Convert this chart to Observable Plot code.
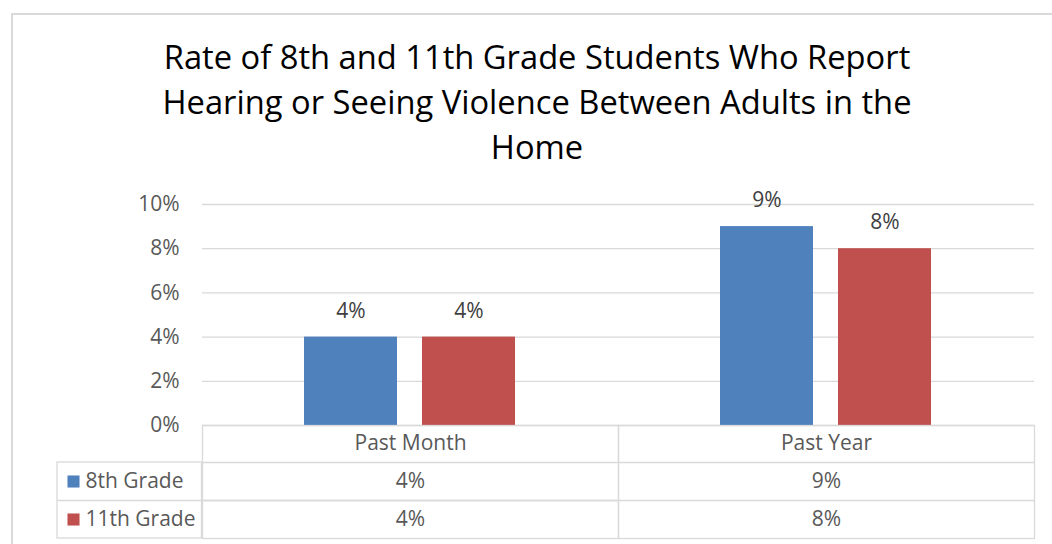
<!DOCTYPE html>
<html>
<head>
<meta charset="utf-8">
<script src="https://cdn.jsdelivr.net/npm/d3@7"></script>
<script src="https://cdn.jsdelivr.net/npm/@observablehq/plot@0.6"></script>
<style>
  html, body { margin: 0; padding: 0; background: #fff; width: 1052px; height: 544px; overflow: hidden; }
  #border { position: absolute; left: 11px; top: 13px; width: 1100px; height: 600px;
            border-left: 2px solid #d9d9d9; border-top: 2px solid #d9d9d9; z-index: 2; pointer-events: none; }
  #title { position: absolute; left: 0; top: 34px; width: 1074px; text-align: center;
           font-family: "Open Sans", sans-serif; font-size: 32.7px; line-height: 45px; color: #000; }
  #chart { position: absolute; left: 0; top: 180px; }
</style>
</head>
<body>
<div id="border"></div>
<div id="title">Rate of 8th and 11th Grade Students Who Report<br>Hearing or Seeing Violence Between Adults in the<br>Home</div>
<div id="chart"></div>
<script>
// ---- data ----
const categories = ["Past Month", "Past Year"];
const grades = ["8th Grade", "11th Grade"];
const grade8Values = [4, 9];
const grade11Values = [4, 8];
const yTicks = [0, 2, 4, 6, 8, 10];
const colors = ["#4F81BD", "#C0504D"];

const rows = [];
categories.forEach((c, i) => {
  rows.push({cat: c, grade: grades[0], value: grade8Values[i]});
  rows.push({cat: c, grade: grades[1], value: grade11Values[i]});
});

// ---- layout ----
const W = 1052, H = 364;
const ML = 201, MR = 18, MT = 24, MB = 119;
const facetW = (W - ML - MR) / categories.length;
const frameH = H - MT - MB;
const grid = "#d9d9d9";
const txt = "#595959";
const FS = 21;

const row0 = 18, row1 = 56, row2 = 94;   // text centers below the frame bottom
const line1 = 37, line2 = 75, line3 = 113;

const plot = Plot.plot({
  width: W, height: H,
  marginLeft: ML, marginRight: MR, marginTop: MT, marginBottom: MB,
  style: {fontFamily: "'Open Sans', sans-serif", background: "none", overflow: "visible"},
  fx: {domain: categories, padding: 0, axis: null},
  x: {domain: grades, paddingInner: 0.21, paddingOuter: 0.857, axis: null},
  y: {domain: [0, 10], axis: null},
  color: {domain: grades, range: colors},
  marks: [
    Plot.gridY({ticks: yTicks, stroke: grid, strokeOpacity: 1, strokeWidth: 1.3}),
    Plot.axisY({ticks: yTicks, tickFormat: d => d + "%", tickSize: 0, tickPadding: 23,
                fontSize: FS, fill: txt, label: null}),
    Plot.barY(rows, {fx: "cat", x: "grade", y: "value", fill: "grade"}),
    Plot.text(rows, {fx: "cat", x: "grade", y: "value", text: d => d.value + "%",
                     dy: -26, fontSize: FS, fill: "#404040"}),
    // data table grid
    Plot.frame({stroke: grid, strokeWidth: 1.3, insetTop: frameH, insetBottom: -line3}),
    Plot.ruleY([0], {dy: line1, stroke: grid, strokeWidth: 1.3}),
    Plot.ruleY([0], {dy: line2, stroke: grid, strokeWidth: 1.3}),
    Plot.rect([0], {fx: () => categories[0], fill: "none", stroke: grid, strokeWidth: 1.3,
                    insetLeft: -(ML - 56), insetRight: facetW,
                    insetTop: frameH + line1, insetBottom: -line3}),
    Plot.ruleY([0], {fx: () => categories[0], dy: line2, insetLeft: -(ML - 56),
                     stroke: grid, strokeWidth: 1.3}),
    // header row (category labels)
    Plot.text(categories, {fx: d => d, text: d => d, frameAnchor: "bottom", lineAnchor: "middle",
                           dy: row0, fontSize: FS, fill: txt}),
    // value rows
    Plot.text(rows.filter(d => d.grade === grades[0]), {fx: "cat", text: d => d.value + "%",
              frameAnchor: "bottom", lineAnchor: "middle", dy: row1, fontSize: FS, fill: txt}),
    Plot.text(rows.filter(d => d.grade === grades[1]), {fx: "cat", text: d => d.value + "%",
              frameAnchor: "bottom", lineAnchor: "middle", dy: row2, fontSize: FS, fill: txt}),
    // row labels with legend keys
    Plot.text([grades[0]], {fx: () => categories[0], text: d => d, frameAnchor: "bottom-left",
              lineAnchor: "middle", textAnchor: "start", dx: 84 - ML, dy: row1, fontSize: FS, fill: txt}),
    Plot.text([grades[1]], {fx: () => categories[0], text: d => d, frameAnchor: "bottom-left",
              lineAnchor: "middle", textAnchor: "start", dx: 84 - ML, dy: row2, fontSize: FS, fill: txt}),
    Plot.dot([grades[0]], {fx: () => categories[0], fill: d => d, symbol: "square", r: 6.8,
              frameAnchor: "bottom-left", dx: 72 - ML, dy: row1}),
    Plot.dot([grades[1]], {fx: () => categories[0], fill: d => d, symbol: "square", r: 6.8,
              frameAnchor: "bottom-left", dx: 72 - ML, dy: row2})
  ]
});
document.getElementById("chart").appendChild(plot);
</script>
</body>
</html>
